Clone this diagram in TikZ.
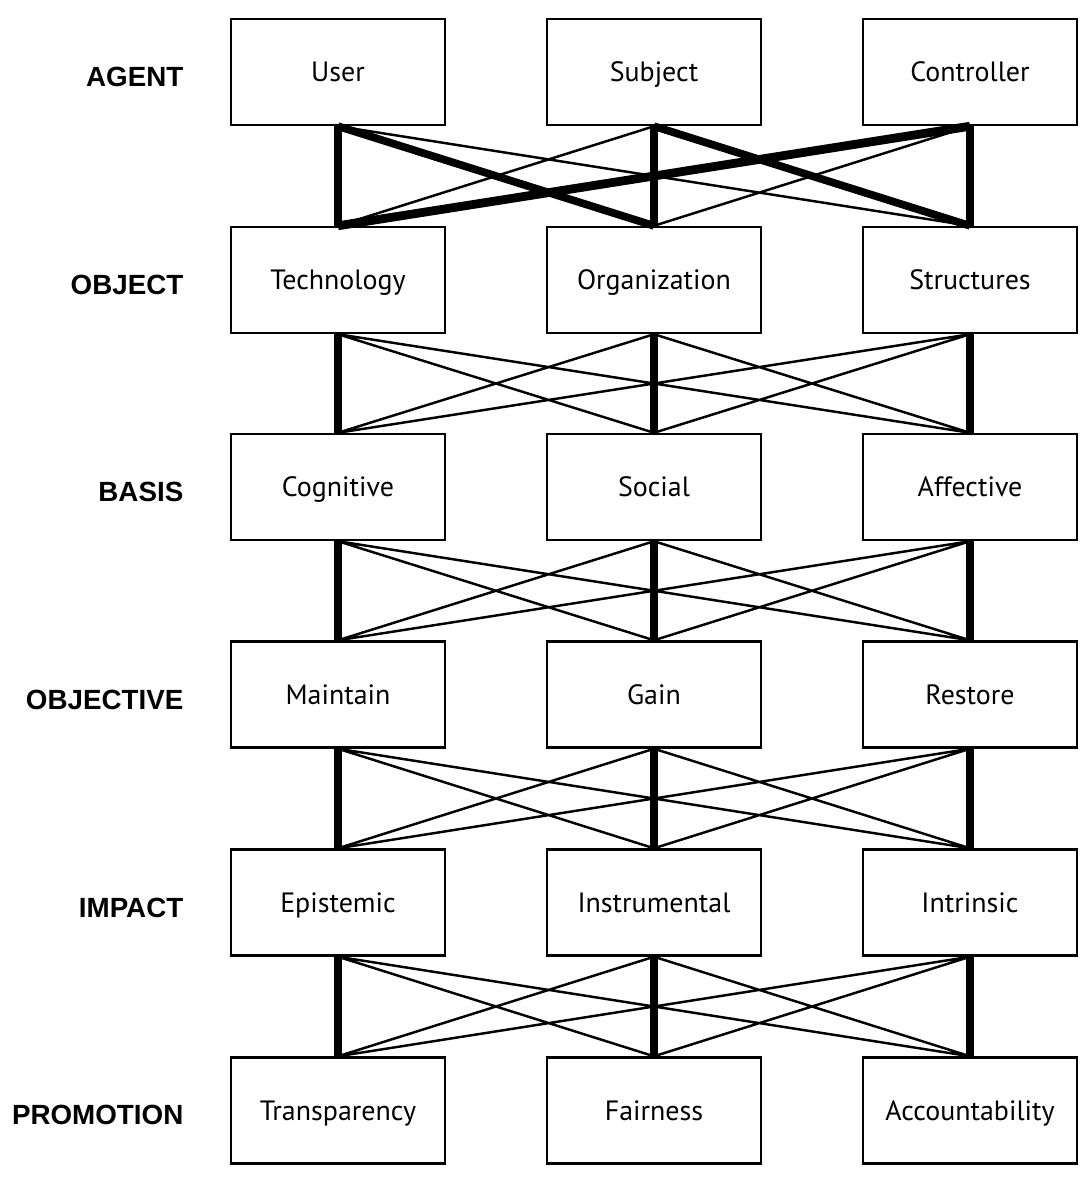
\documentclass[tikz,border=0pt]{standalone}
\usepackage{fontspec}
\setmainfont{PT Sans}
\newfontfamily\tagfont{Liberation Sans}
\usepackage{tikz}
\usetikzlibrary{positioning}

\begin{document}
\begin{tikzpicture}[
          levelbox/.style={rectangle,draw=black,line width=0.7pt,fill=white,
                        minimum width=2.14cm,minimum height=1.06cm,
                        text height=1.45ex,text depth=0.35ex,
                        font=\fontsize{7.95}{9}\selectfont},
          leveltag/.style={anchor=east,inner sep=0pt,
                        font=\tagfont\bfseries\fontsize{7.9}{9}\selectfont},
          heavy/.style={line width=2.2pt},
          light/.style={line width=0.7pt},
        ]
        \useasboundingbox (0,0) rectangle (10.92,-11.80);

        % LEVEL TAGS
        \node[leveltag] (tagA) at (1.84,-0.77)  {AGENT};
        \node[leveltag] (tagB) at (1.84,-2.85)  {OBJECT};
        \node[leveltag] (tagC) at (1.84,-4.92)  {BASIS};
        \node[leveltag] (tagD) at (1.84,-7.00)  {OBJECTIVE};
        \node[leveltag] (tagE) at (1.84,-9.08)  {IMPACT};
        \node[leveltag] (tagF) at (1.84,-11.15) {PROMOTION};

        % BOXES
        \node[levelbox] (user)   at (3.38,-0.72)   {User};
        \node[levelbox] (subj)   at (6.54,-0.72)   {Subject};
        \node[levelbox] (ctrl)   at (9.70,-0.72)   {Controller};
        \node[levelbox] (tech)   at (3.38,-2.80)   {Technology};
        \node[levelbox] (org)    at (6.54,-2.80)   {Organization};
        \node[levelbox] (struc)  at (9.70,-2.80)   {Structures};
        \node[levelbox] (cog)    at (3.38,-4.87)   {Cognitive};
        \node[levelbox] (soc)    at (6.54,-4.87)   {Social};
        \node[levelbox] (aff)    at (9.70,-4.87)   {Affective};
        \node[levelbox] (maint)  at (3.38,-6.945)  {Maintain};
        \node[levelbox] (gain)   at (6.54,-6.945)  {Gain};
        \node[levelbox] (rest)   at (9.70,-6.945)  {Restore};
        \node[levelbox] (epi)    at (3.38,-9.025)  {Epistemic};
        \node[levelbox] (instr)  at (6.54,-9.025)  {Instrumental};
        \node[levelbox] (intr)   at (9.70,-9.025)  {Intrinsic};
        \node[levelbox] (transp) at (3.38,-11.105) {Transparency};
        \node[levelbox] (fair)   at (6.54,-11.105) {Fairness};
        \node[levelbox] (acc)    at (9.70,-11.105) {Accountability};

        % AGENT -> OBJECT
        \draw[light] (user.south)--(struc.north) (subj.south)--(tech.north)
          (ctrl.south)--(org.north);
        \draw[heavy] (user.south)--(tech.north) (subj.south)--(org.north)
          (ctrl.south)--(struc.north) (user.south)--(org.north)
          (subj.south)--(struc.north);
        \draw[line width=2.5pt] (ctrl.south)--(tech.north);

        % OBJECT -> BASIS
        \draw[light] (tech.south)--(soc.north) (tech.south)--(aff.north)
          (org.south)--(cog.north) (org.south)--(aff.north)
          (struc.south)--(cog.north) (struc.south)--(soc.north);
        \draw[heavy] (tech.south)--(cog.north) (org.south)--(soc.north)
          (struc.south)--(aff.north);

        % BASIS -> OBJECTIVE
        \draw[light] (cog.south)--(gain.north) (cog.south)--(rest.north)
          (soc.south)--(maint.north) (soc.south)--(rest.north)
          (aff.south)--(maint.north) (aff.south)--(gain.north);
        \draw[heavy] (cog.south)--(maint.north) (soc.south)--(gain.north)
          (aff.south)--(rest.north);

        % OBJECTIVE -> IMPACT
        \draw[light] (maint.south)--(instr.north) (maint.south)--(intr.north)
          (gain.south)--(epi.north) (gain.south)--(intr.north)
          (rest.south)--(epi.north) (rest.south)--(instr.north);
        \draw[heavy] (maint.south)--(epi.north) (gain.south)--(instr.north)
          (rest.south)--(intr.north);

        % IMPACT -> PROMOTION
        \draw[light] (epi.south)--(fair.north) (epi.south)--(acc.north)
          (instr.south)--(transp.north) (instr.south)--(acc.north)
          (intr.south)--(transp.north) (intr.south)--(fair.north);
        \draw[heavy] (epi.south)--(transp.north) (instr.south)--(fair.north)
          (intr.south)--(acc.north);
      \end{tikzpicture}
\end{document}
